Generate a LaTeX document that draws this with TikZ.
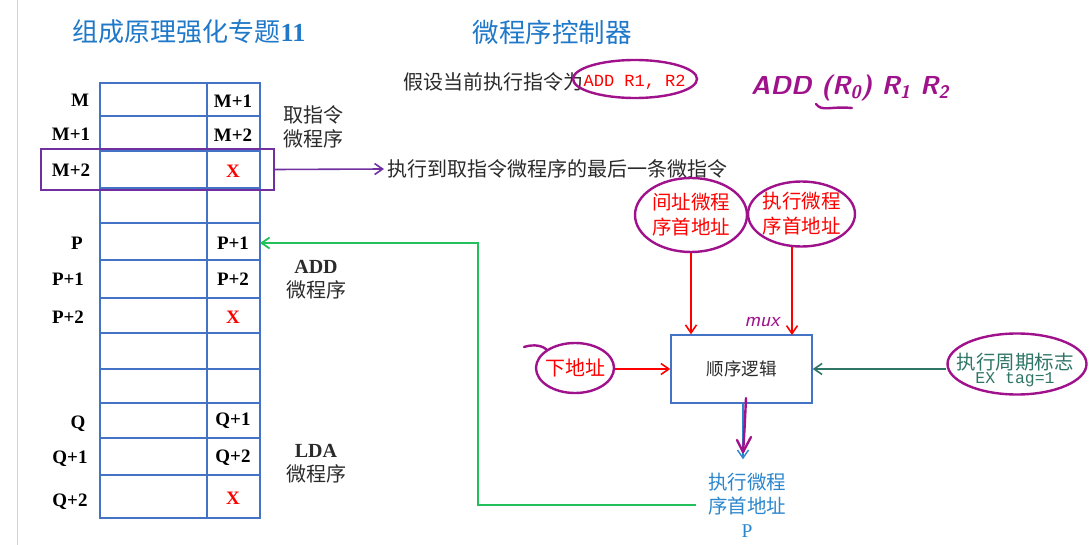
\documentclass[tikz,border=0pt]{standalone}
\usepackage{fontspec}
\setmainfont{Liberation Serif}
\newfontfamily\cjk{Noto Sans CJK SC}
\newfontfamily\codefont{Liberation Mono}
\usepackage{xcolor}
\usetikzlibrary{arrows.meta,positioning,calc,shapes.geometric}
\definecolor{tblue}{HTML}{4472C4}
\definecolor{ttitle}{HTML}{1F78C8}
\definecolor{fpurple}{HTML}{7030A0}
\definecolor{hand}{HTML}{A0128C}
\definecolor{fgreen}{HTML}{22C05A}
\definecolor{fteal}{HTML}{2F7566}
\definecolor{fout}{HTML}{2B86CD}
\definecolor{ftext}{HTML}{2A2A2A}
\newcommand{\fsz}[2]{\fontsize{#1}{#2}\selectfont}

\begin{document}
\begin{tikzpicture}[x=1pt, y=-1pt,
  tline/.style={tblue, line width=1.8pt},
  addr/.style={font=\bfseries\fsz{19}{22}, inner sep=0pt},
  xmark/.style={addr, text=red},
  prog/.style={text=ftext, font=\cjk\fsz{20}{24}, align=center},
  ring/.style={ellipse, draw=hand, line width=2.4pt, inner sep=0pt},
  handline/.style={hand, line width=2.4pt, line cap=round, line join=round},
  tip/.style={-{Straight Barb[length=8pt,width=11pt]}}]
\useasboundingbox (0,0) rectangle (1089,545);
\draw[gray!35, line width=1pt] (17,0) -- (17,545);
% ---- titles ----
\node[text=ttitle, font=\cjk\fsz{26}{30}] (ttl) at (189,32)
   {组成原理强化专题{\rmfamily\bfseries 11}};
\node[text=ttitle, font=\cjk\fsz{26.5}{30}] (sub) at (552,32) {微程序控制器};
% ---- control memory ----
\draw[tline] (100,83) rectangle (260,518);
\draw[tline] (207,83) -- (207,518);
\foreach \y in {116,151,188,223,260,298,333,369,403,438,475}{
  \draw[tline] (100,\y) -- (260,\y);}
\foreach \t/\x/\y [count=\i] in {M/80/100, M+1/71/134, M+2/71/170, P/77/243,
    P+1/68/279, P+2/68/317, Q/78/424, Q+1/70/459, Q+2/70/502}{
  \node[addr] (adr\i) at (\x,\y) {\t};}
\foreach \t/\y [count=\i] in {M+1/101, M+2/135, P+1/243, P+2/279, Q+1/421, Q+2/458}{
  \node[addr] (nxt\i) at (233,\y) {\t};}
\foreach \y [count=\i] in {171,317,498}{
  \node[xmark] (end\i) at (233,\y) {X};}
\node[prog] (fetch) at (313,127) {取指令\\微程序};
\node[prog] (addp) at (316,280) {{\rmfamily\bfseries ADD}\\微程序};
\node[prog] (ldap) at (316,464) {{\rmfamily\bfseries LDA}\\微程序};
% ---- last micro-instruction of the fetch routine ----
\node[draw=fpurple, line width=2.4pt, minimum width=233, minimum height=41,
   inner sep=0pt] (lastbox) at (157.5,169.5) {};
\node[text=ftext, font=\cjk\fsz{20}{24}, anchor=west] (lastnote) at (384,169)
   {执行到取指令微程序的最后一条微指令};
\draw[fpurple, line width=1.6pt, tip] (lastbox.east) -- (lastnote.west);
% ---- current instruction ----
\node[text=ftext, font=\cjk\fsz{20}{24}, anchor=west, inner sep=0pt] (assume)
   at (403,82) {假设当前执行指令为};
\node[text=red, font=\codefont\fsz{17}{20}, right=0pt of assume, inner sep=0pt] (instr)
   {ADD R1, R2};
\node[ring, minimum width=124, minimum height=38] (instrring) at (635,79) {};
\node[text=hand, font=\sffamily\bfseries\itshape\fsz{26}{30}] (handnote) at (850,88)
   {ADD (R\textsubscript{0}) R\textsubscript{1} R\textsubscript{2}};
\draw[handline] (816,104) .. controls (822,112) and (830,106) .. (852,108);
% ---- sequencing logic ----
\node[draw=tblue, line width=1.4pt, minimum width=141, minimum height=68,
   text=ftext, font=\cjk\fsz{17.5}{20}] (seq) at (741.5,369) {顺序逻辑};
\node[text=hand, font=\sffamily\itshape\fsz{21}{24}] (mux) at (762,322) {mux};
\node[ring, minimum width=112, minimum height=74] (jzring) at (691,215) {};
\node[text=red, font=\cjk\fsz{19.5}{25}, align=center] (jz) at (jzring)
   {间址微程\\序首地址};
\node[ring, minimum width=107, minimum height=65] (zxring) at (801.5,214) {};
\node[text=red, font=\cjk\fsz{19.5}{25}, align=center] (zx) at (zxring)
   {执行微程\\序首地址};
\draw[red, line width=1.6pt, tip] (jzring.south) -- (jzring.south |- seq.north);
\draw[red, line width=1.6pt, tip] (792,247) -- (792,335);
\node[ring, minimum width=78, minimum height=50] (xdring) at (575,368) {};
\node[text=red, font=\cjk\fsz{20}{24}] (xd) at (xdring) {下地址};
\draw[handline] (xdring.north west) .. controls (540,344) and (530,345) .. (524,347);
\draw[red, line width=1.6pt, tip] (xdring.east |- seq) -- (seq.west);
\node[ring, minimum width=139, minimum height=61] (zqring) at (1017,364) {};
\node[text=fteal, align=center, inner sep=0pt] (zq) at (1015,370)
   {{\cjk\fsz{19.5}{24}执行周期标志}\\{\codefont\fsz{16.5}{24}EX tag=1}};
\draw[fteal, line width=1.6pt, tip] (zqring.west |- seq) -- (seq.east);
% ---- next address out ----
\node[text=fout, font=\cjk\fsz{19.5}{24}, align=center] (outp) at (747,505)
   {执行微程\\序首地址\\{\rmfamily P}};
\draw[fout, line width=1.4pt, tip, shorten >=10pt] (seq.south -| 743,0) -- (outp.north -| 743,0);
\draw[handline] (746,398) .. controls (745,420) and (744,440) .. (743,452);
\draw[handline] (737,440) -- (743,452) -- (751,437);
% ---- back into the table ----
\coordinate (tblP) at (260,243);
\draw[fgreen, line width=1.8pt, tip, shorten <=8pt] (outp.west) -| ([xshift=218pt]tblP) -- (tblP);
\end{tikzpicture}
\end{document}
